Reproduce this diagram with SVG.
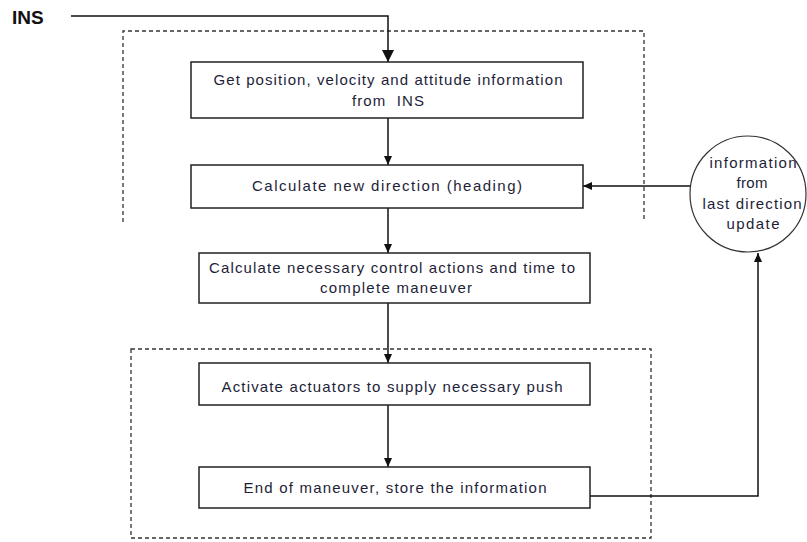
<svg xmlns="http://www.w3.org/2000/svg" width="807" height="542" viewBox="0 0 807 542">
  <style>
    .box { fill: #ffffff; stroke: #222222; stroke-width: 1.5; }
    .frame { fill: none; stroke: #333333; stroke-width: 1.3; stroke-dasharray: 4 3; }
    .conn { fill: none; stroke: #111111; stroke-width: 1.5; }
    .t { font-family: "Liberation Sans", Arial, sans-serif; font-size: 15px; fill: #1e1e38; text-anchor: middle; white-space: pre; }
    .ct { font-family: "Liberation Sans", Arial, sans-serif; font-size: 15px; fill: #1e1e38; text-anchor: middle; }
    .ins { font-family: "Liberation Sans", Arial, sans-serif; font-size: 19px; font-weight: bold; fill: #111111; }
  </style>
  <defs>
    <marker id="big" markerUnits="userSpaceOnUse" markerWidth="14" markerHeight="14" refX="12" refY="6" orient="auto">
      <path d="M0,0 L12,6 L0,12 Z" fill="#111111"/>
    </marker>
    <marker id="arr" markerUnits="userSpaceOnUse" markerWidth="10" markerHeight="10" refX="9" refY="4" orient="auto">
      <path d="M0,0 L9,4 L0,8 Z" fill="#111111"/>
    </marker>
  </defs>
  <rect width="807" height="542" fill="#ffffff"/>

  <!-- dashed grouping frames -->
  <g id="frames">
    <path class="frame" d="M123,222 L123,31 L644,31 L644,222"/>
    <rect class="frame" x="131" y="349" width="520" height="189"/>
  </g>

  <text class="ins" x="12" y="24">INS</text>

  <g id="connectors">
    <path class="conn" d="M71,16 L388,16 L388,62" marker-end="url(#big)"/>
    <path class="conn" d="M388,118 L388,165" marker-end="url(#arr)"/>
    <path class="conn" d="M388,208 L388,253" marker-end="url(#arr)"/>
    <path class="conn" d="M388,303 L388,363" marker-end="url(#arr)"/>
    <path class="conn" d="M388,405 L388,467" marker-end="url(#arr)"/>
    <path class="conn" d="M690,186 L583,186" marker-end="url(#arr)"/>
    <path class="conn" d="M590,496 L758,496 L758,253" marker-end="url(#arr)"/>
  </g>

  <g id="node1">
    <rect class="box" x="191" y="62" width="392" height="56"/>
    <text class="t" x="388" y="85" textLength="349" lengthAdjust="spacing">Get position, velocity and attitude information</text>
    <text class="t" x="388" y="106" textLength="72" lengthAdjust="spacing" xml:space="preserve">from  INS</text>
  </g>

  <g id="node2">
    <rect class="box" x="191" y="165" width="392" height="43"/>
    <text class="t" x="387" y="191" textLength="270" lengthAdjust="spacing">Calculate new direction (heading)</text>
  </g>

  <g id="node3">
    <rect class="box" x="199" y="253" width="391" height="50"/>
    <text class="t" x="392" y="273" textLength="366" lengthAdjust="spacing">Calculate necessary control actions and time to</text>
    <text class="t" x="396" y="293" textLength="152" lengthAdjust="spacing">complete maneuver</text>
  </g>

  <g id="node4">
    <rect class="box" x="199" y="363" width="391" height="42"/>
    <text class="t" x="392" y="392" textLength="341" lengthAdjust="spacing">Activate actuators to supply necessary push</text>
  </g>

  <g id="node5">
    <rect class="box" x="199" y="467" width="391" height="41"/>
    <text class="t" x="395" y="493" textLength="303" lengthAdjust="spacing">End of maneuver, store the information</text>
  </g>

  <g id="node6">
    <circle cx="748" cy="194" r="58" fill="#ffffff" stroke="#333333" stroke-width="1.2"/>
    <text class="ct" x="753" y="168" textLength="87" lengthAdjust="spacing">information</text>
    <text class="ct" x="752" y="188" textLength="31" lengthAdjust="spacing">from</text>
    <text class="ct" x="752" y="209" textLength="99" lengthAdjust="spacing">last direction</text>
    <text class="ct" x="753" y="229" textLength="53" lengthAdjust="spacing">update</text>
  </g>
</svg>
